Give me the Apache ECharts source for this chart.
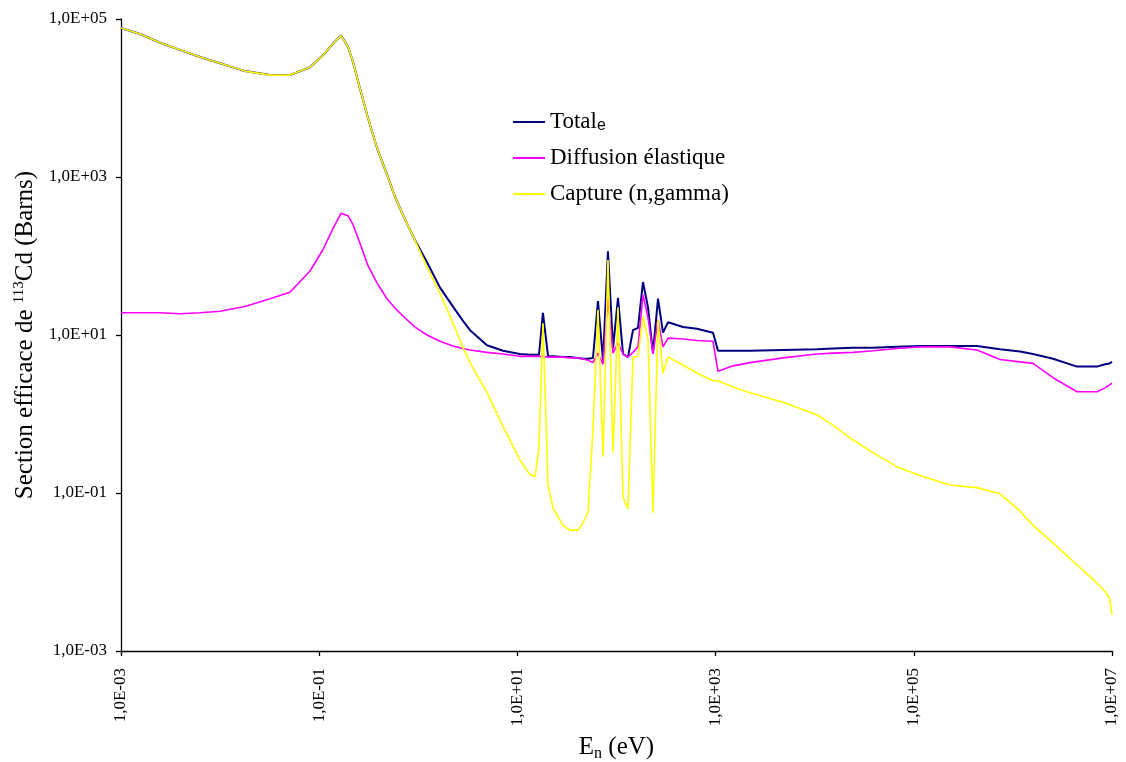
<!DOCTYPE html>
<html><head><meta charset="utf-8">
<script src="https://cdn.jsdelivr.net/npm/echarts@6/dist/echarts.min.js"></script>
<style>html,body{margin:0;padding:0;background:#fff}#c{width:1126px;height:762px}</style>
</head><body><div id="c"></div>
<script>
// Neutron energy (eV)
const energy = [0.001,0.00156,0.00248,0.00394,0.00627,0.01,0.0178,0.0319,0.0507,0.0807,
  0.109,0.138,0.166,0.195,0.219,0.258,0.310,0.383,0.483,0.582,
  0.700,0.927,1.225,1.656,2.239,2.825,3.327,4.93,7.16,10.6,
  13.4,15.1,16.5,18.1,20.4,22.9,28.8,34.0,40.9,45.9,
  51.5,57.9,65.0,73.1,82.0,92.3,103.5,116.4,130.6,146.6,
  164.8,184.9,208.0,233.3,262.4,294.4,331.1,468.8,648.6,941.9,
  1057,1500,2223,4786,10540,15310,24380,38730,67760,115600,
  231700,434500,741300,1180000,1596000,2541000,4436000,7063000,8511000,9441000,10000000];
// Section efficace totale (barns)
const totale = [76900,64600,50100,40700,33100,27500,21900,19500,19500,24500,
  34700,49000,61700,44700,28800,13200,5620,2340,1070,562,
  331,158,83.2,39.8,22.9,15.1,11.5,7.41,6.31,5.75,
  5.62,5.62,5.62,19.1,5.37,5.37,5.25,5.25,5.13,5.01,
  5.01,5.13,26.9,4.79,115,6.76,29.5,5.75,5.25,11.5,
  12.3,46.8,22.4,5.89,28.8,10.7,14.5,12.6,12.0,10.7,
  6.31,6.31,6.31,6.46,6.61,6.76,6.92,6.92,7.08,7.24,
  7.24,7.24,6.61,6.17,5.75,5.01,3.98,3.98,4.27,4.37,4.57];
// Diffusion élastique (barns)
const diffusion = [19.1,19.1,19.1,18.6,19.1,20.0,22.9,28.8,34.7,64.6,
  120,224,347,324,251,145,75.9,45.7,28.8,21.9,
  17.4,12.6,10.0,8.32,7.24,6.76,6.46,6.03,5.75,5.37,
  5.37,5.37,5.37,5.37,5.25,5.25,5.25,5.13,5.13,5.01,
  4.79,4.47,5.89,4.27,29.5,5.89,7.94,5.75,5.25,6.03,
  7.08,32.4,16.6,5.75,15.5,7.08,9.12,8.91,8.51,8.32,
  3.47,4.07,4.47,5.13,5.75,5.89,6.03,6.31,6.76,7.08,
  7.08,6.46,4.90,4.57,4.37,2.88,1.91,1.91,2.14,2.34,2.45];
// Capture (n,gamma) (barns)
const capture = [76900,64600,50100,40700,33100,27500,21900,19500,19500,24500,
  34700,49000,61700,44700,28800,13200,5620,2340,1070,562,
  331,158,72.4,33.9,14.1,6.92,4.47,1.86,0.692,0.263,
  0.170,0.162,0.380,14.1,0.126,0.0646,0.0389,0.0339,0.0339,0.0417,
  0.0575,0.631,20.9,0.288,89.1,0.324,22.4,0.0871,0.0631,5.25,
  5.37,17.0,8.71,0.0562,15.5,3.31,5.25,4.17,3.31,2.63,
  2.63,2.19,1.86,1.41,0.977,0.724,0.468,0.324,0.214,0.166,
  0.126,0.117,0.0977,0.0589,0.0389,0.0234,0.0123,0.00724,0.00562,0.00468,0.00288];
const seriesNames = ['Totale','Diffusion élastique','Capture (n,gamma)'];
const xTickExponents = [-3,-1,1,3,5,7];
const yTickExponents = [-3,-1,1,3,5];

function sciLabel(v){
  const e = Math.round(Math.log10(v));
  return '1,0E' + (e < 0 ? '-' : '+') + String(Math.abs(e)).padStart(2,'0');
}
const serif = 'Liberation Serif';
const chart = echarts.init(document.getElementById('c'), null, {renderer:'canvas'});
const pairs = arr => energy.map((e,i)=>[e, arr[i]]);
chart.setOption({
  animation:false,
  backgroundColor:'#fff',
  grid:{left:121,right:14,top:19,bottom:111,containLabel:false,outerBoundsMode:'none'},
  legend:{
    orient:'vertical', left:513, top:110, padding:0, itemWidth:32, itemHeight:2, itemGap:12, itemTextGap:5, icon:'rect',
    data:seriesNames,
    textStyle:{fontFamily:serif,fontSize:23,color:'#000',lineHeight:24,
      rich:{e:{fontFamily:'Liberation Sans',fontSize:16,color:'#000',verticalAlign:'bottom',padding:[11,0,0,0]}}},
    formatter:function(n){ return n==='Totale' ? 'Total{e|e}' : n; }
  },
  xAxis:{
    type:'log', logBase:10, min:1e-3, max:1e7, interval:2,
    name:'E{s|n} (eV)', nameLocation:'middle', nameGap:81,
    nameTextStyle:{fontFamily:serif,fontSize:25,color:'#000',
      rich:{s:{fontFamily:serif,fontSize:16,color:'#000',verticalAlign:'top',padding:[14,0,0,0]}}},
    axisLine:{show:true,lineStyle:{color:'#000',width:1.3}},
    axisTick:{show:true,length:5,lineStyle:{color:'#000',width:1.3}},
    axisLabel:{rotate:90,margin:17,fontFamily:serif,fontSize:17,color:'#000',
      formatter:function(v){return xTickExponents.indexOf(Math.round(Math.log10(v)))>=0 ? sciLabel(v) : '';}},
    splitLine:{show:false}, minorTick:{show:false}
  },
  yAxis:{
    type:'log', logBase:10, min:1e-3, max:1e5, interval:2,
    name:'Section efficace de {sup|113}Cd (Barns)', nameLocation:'middle', nameGap:79, nameRotate:90,
    nameTextStyle:{fontFamily:serif,fontSize:25,color:'#000',
      rich:{sup:{fontFamily:serif,fontSize:15,color:'#000',verticalAlign:'top',padding:[0,0,12,0]}}},
    axisLine:{show:true,lineStyle:{color:'#000',width:1.3}},
    axisTick:{show:true,length:5,lineStyle:{color:'#000',width:1.3}},
    axisLabel:{margin:14,fontFamily:serif,fontSize:17,color:'#000',
      formatter:function(v){return yTickExponents.indexOf(Math.round(Math.log10(v)))>=0 ? sciLabel(v) : '';}},
    splitLine:{show:false}
  },
  series:[
    {name:seriesNames[0],type:'line',data:pairs(totale),symbol:'none',showSymbol:false,color:'#000080',lineStyle:{color:'#000080',width:2},z:2},
    {name:seriesNames[1],type:'line',data:pairs(diffusion),symbol:'none',showSymbol:false,color:'#FF00FF',lineStyle:{color:'#FF00FF',width:1.6},z:3},
    {name:seriesNames[2],type:'line',data:pairs(capture),symbol:'none',showSymbol:false,color:'#FFFF00',lineStyle:{color:'#FFFF00',width:1.6},z:4}
  ]
});
</script></body></html>
